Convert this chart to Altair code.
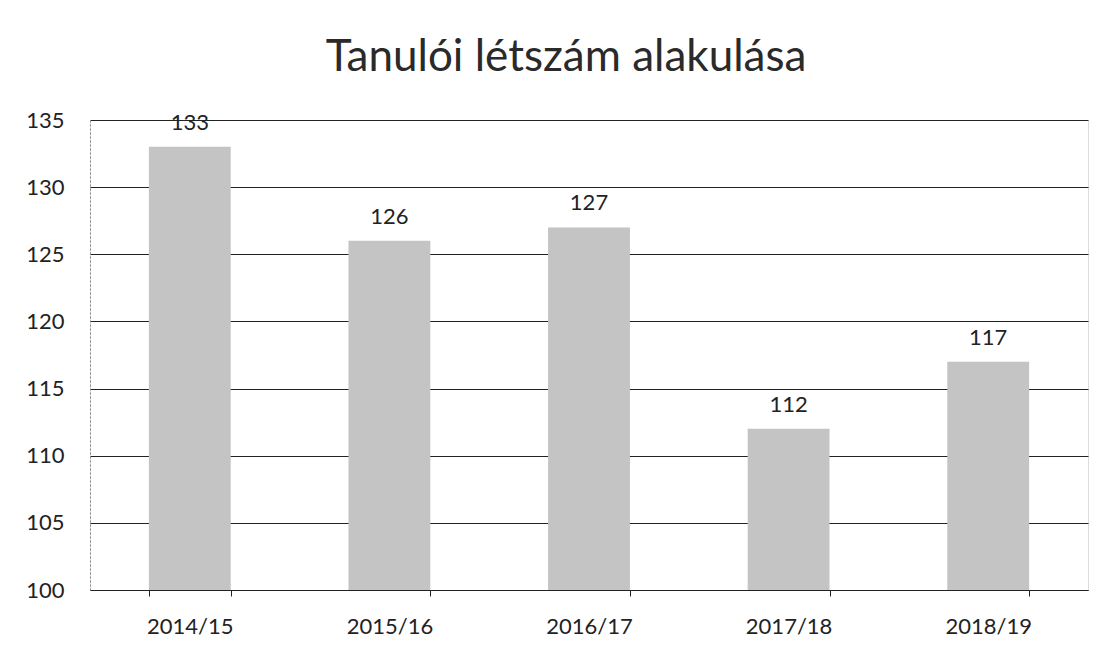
import altair as alt
import pandas as pd

years = ["2014/15", "2015/16", "2016/17", "2017/18", "2018/19"]
counts = [133, 126, 127, 112, 117]
y_ticks = [100, 105, 110, 115, 120, 125, 130, 135]

df = pd.DataFrame({"year": years, "count": counts})

FONT = "Lato"

base = alt.Chart(df).encode(
    x=alt.X(
        "year:N",
        sort=years,
        scale=alt.Scale(paddingInner=0.59, paddingOuter=0.295),
        axis=alt.Axis(
            title=None,
            labelAngle=0,
            labelFont=FONT,
            labelFontSize=22,
            labelColor="#222",
            labelPadding=20,
            tickBand="extent",
            tickColor="#222",
            tickSize=6,
            domainColor="#222",
            grid=False,
        ),
    ),
    y=alt.Y(
        "count:Q",
        scale=alt.Scale(domain=[100, 135], nice=False, zero=False, clamp=True),
        axis=alt.Axis(
            title=None,
            values=y_ticks,
            labelFont=FONT,
            labelFontSize=22,
            labelColor="#222",
            labelPadding=26,
            ticks=False,
            domainColor="#888",
            domainDash=[2, 2],
            grid=True,
            gridColor="#222",
            gridWidth=1,
        ),
    ),
)

bars = base.mark_bar(color="#c4c4c4")
labels = base.mark_text(
    baseline="alphabetic", dy=-17, font=FONT, fontSize=22, color="#222"
).encode(text="count:Q")

chart = (
    alt.layer(bars, labels)
    .properties(
        width=998,
        height=470,
        title=alt.TitleParams(
            "Tanulói létszám alakulása",
            font=FONT,
            fontSize=44,
            fontWeight="normal",
            color="#2a2a2a",
            anchor="middle",
            dx=-23,
            offset=29,
        ),
        autosize=alt.AutoSizeParams(type="none"),
        padding={"left": 90, "top": 120, "right": 16, "bottom": 62},
    )
    .configure_view(stroke=None)
    .configure(background="white")
)

chart.save("out.html", embed_options={"renderer": "svg", "actions": False})
